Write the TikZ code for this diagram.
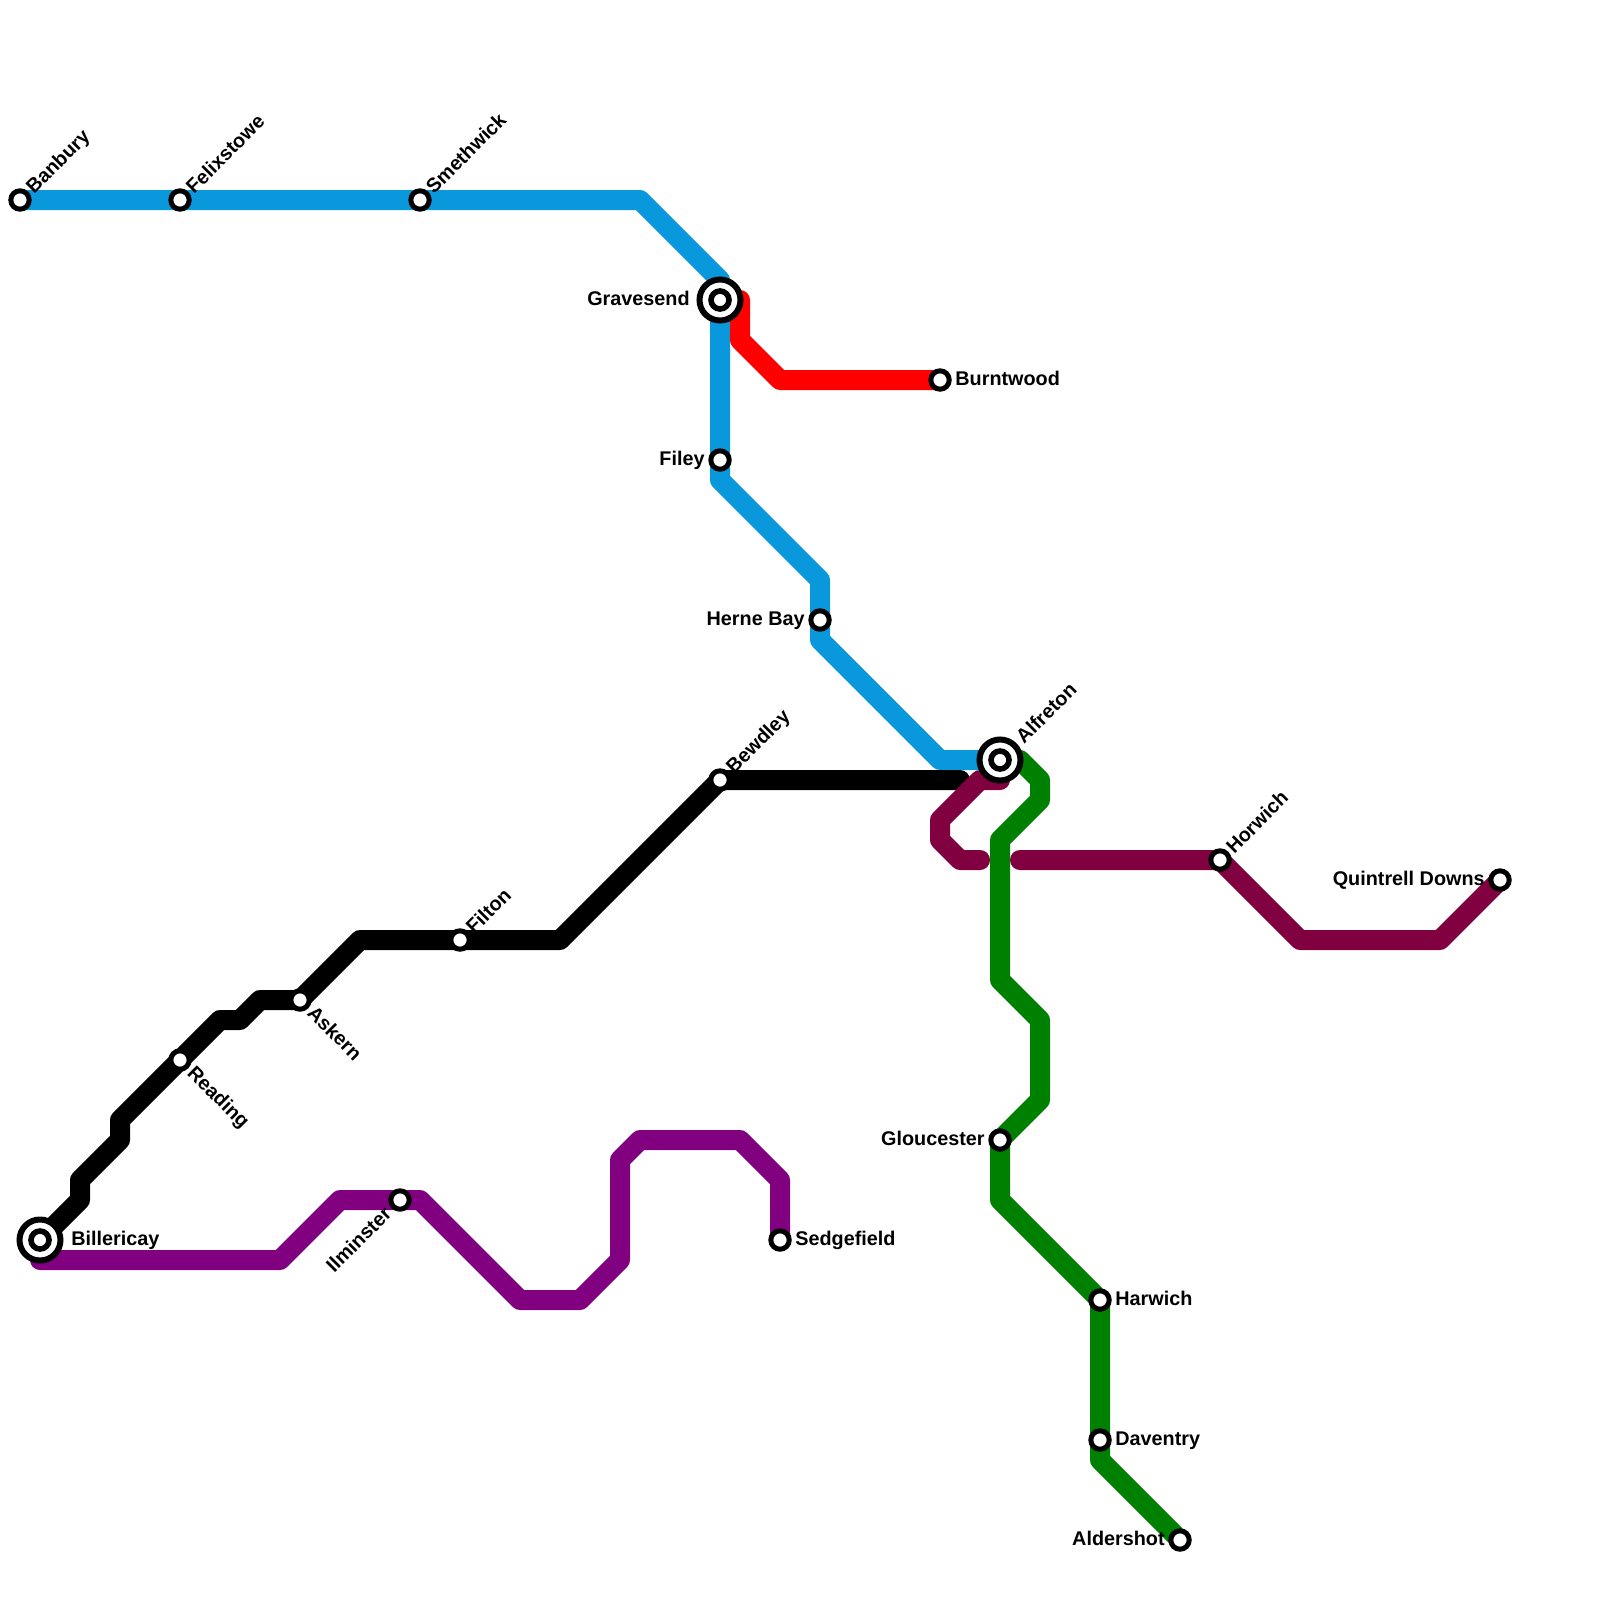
\documentclass[tikz,border=0pt]{standalone}
\usepackage{fontspec}
\setmainfont{Liberation Sans}
\usetikzlibrary{backgrounds}
\tikzset{
  stn/.style={circle,draw=black,fill=white,line width=2.5pt,minimum size=9.2pt,inner sep=0pt},
  hub/.style={circle,draw=black,fill=white,line width=3pt,minimum size=20.5pt,inner sep=0pt},
  hubin/.style={circle,draw=black,fill=white,line width=2.8pt,minimum size=9pt,inner sep=0pt},
  lbl/.style={font=\fontsize{9.9}{11}\selectfont\bfseries,inner sep=0pt,text=black,text height=7pt,text depth=0pt},
  ne/.style={lbl,anchor=west,rotate=45},
  se/.style={lbl,anchor=west,rotate=-45},
  sw/.style={lbl,anchor=east,rotate=45},
  ri/.style={lbl,anchor=west},
  le/.style={lbl,anchor=east},
  metro/.style={line width=10pt,line join=round,line cap=round},
}
\definecolor{lblue}{RGB}{9,152,219}
\definecolor{lred}{RGB}{255,0,0}
\definecolor{lgreen}{RGB}{0,128,0}
\definecolor{lmaroon}{RGB}{128,0,64}
\definecolor{lpurple}{RGB}{128,0,128}
\begin{document}
\begin{tikzpicture}[x=0.5pt,y=-0.5pt]
\useasboundingbox (0,0) rectangle (1600,1600);
% stations
\node[stn] (ban) at (20,200) {};
\node[stn] (fel) at (180,200) {};
\node[stn] (sme) at (420,200) {};
\node[hub] (gra) at (720,300) {};
\node[hubin] (grai) at (720,300) {};
\node[stn] (fil) at (720,460) {};
\node[stn] (her) at (820,620) {};
\node[hub] (alf) at (1000,760) {};
\node[hubin] (alfi) at (1000,760) {};
\node[stn] (bur) at (940,380) {};
\node[stn] (bew) at (720,780) {};
\node[stn] (flt) at (460,940) {};
\node[stn] (ask) at (300,1000) {};
\node[stn] (rea) at (180,1060) {};
\node[hub] (bil) at (40,1240) {};
\node[hubin] (bili) at (40,1240) {};
\node[stn] (ilm) at (400,1200) {};
\node[stn] (sed) at (780,1240) {};
\node[stn] (glo) at (1000,1140) {};
\node[stn] (har) at (1100,1300) {};
\node[stn] (dav) at (1100,1440) {};
\node[stn] (ald) at (1180,1540) {};
\node[stn] (hor) at (1220,860) {};
\node[stn] (qui) at (1500,880) {};
\coordinate (blkend) at (960,780);
\coordinate (marA) at (980,860);
\coordinate (marB) at (1020,860);
\coordinate (marC) at (1000,780);
\coordinate (purA) at (40,1260);
% lines
\begin{scope}[on background layer]
\fill[white] (0,0) rectangle (1600,1600);
\draw[metro,lblue] (ban.center) -- (fel.center) -- (sme.center) -- (640,200) -- (720,280) -- (gra.center) -- (fil.center) -- (720,480) -- (820,580) -- (her.center) -- (820,640) -- (940,760) -- (alf.center);
\draw[metro,lred] (gra.center) -- (740,300) -- (740,340) -- (780,380) -- (bur.center);
\draw[metro,black] (bil.center) -- (80,1200) -- (80,1180) -- (120,1140) -- (120,1120) -- (rea.center) -- (220,1020) -- (240,1020) -- (260,1000) -- (ask.center) -- (360,940) -- (flt.center) -- (560,940) -- (bew.center) -- (blkend);
\draw[metro,lmaroon] (marC) -- (980,780) -- (940,820) -- (940,840) -- (960,860) -- (marA);
\draw[metro,lmaroon] (marB) -- (hor.center) -- (1300,940) -- (1440,940) -- (qui.center);
\draw[metro,lgreen] (alf.center) -- (1020,760) -- (1040,780) -- (1040,800) -- (1000,840) -- (1000,980) -- (1040,1020) -- (1040,1100) -- (glo.center) -- (1000,1200) -- (har.center) -- (dav.center) -- (1100,1460) -- (ald.center);
\draw[metro,lpurple] (purA) -- (280,1260) -- (340,1200) -- (ilm.center) -- (420,1200) -- (520,1300) -- (580,1300) -- (620,1260) -- (620,1160) -- (640,1140) -- (740,1140) -- (780,1180) -- (sed.center);
\end{scope}
% labels
\node[ne] (tban) at (29,190) {Banbury};
\node[ne] (tfel) at (189,190) {Felixstowe};
\node[ne] (tsme) at (429,190) {Smethwick};
\node[le] (tgra) at (690,298) {Gravesend};
\node[le] (tfil) at (705,458) {Filey};
\node[le] (ther) at (805,618) {Herne Bay};
\node[ne] (talf) at (1019,740) {Alfreton};
\node[ri] (tbur) at (955,378) {Burntwood};
\node[ne] (tbew) at (729,770) {Bewdley};
\node[ne] (tflt) at (469,930) {Filton};
\node[se] (task) at (311,1009) {Askern};
\node[se] (trea) at (191,1069) {Reading};
\node[ri] (tbil) at (71,1238) {Billericay};
\node[sw] (tilm) at (388,1210) {Ilminster};
\node[ri] (tsed) at (795,1238) {Sedgefield};
\node[le] (tglo) at (985,1138) {Gloucester};
\node[ri] (thar) at (1115,1298) {Harwich};
\node[ri] (tdav) at (1115,1438) {Daventry};
\node[le] (tald) at (1165,1538) {Aldershot};
\node[ne] (thor) at (1229,850) {Horwich};
\node[le] (tqui) at (1485,878) {Quintrell Downs};
\end{tikzpicture}
\end{document}
